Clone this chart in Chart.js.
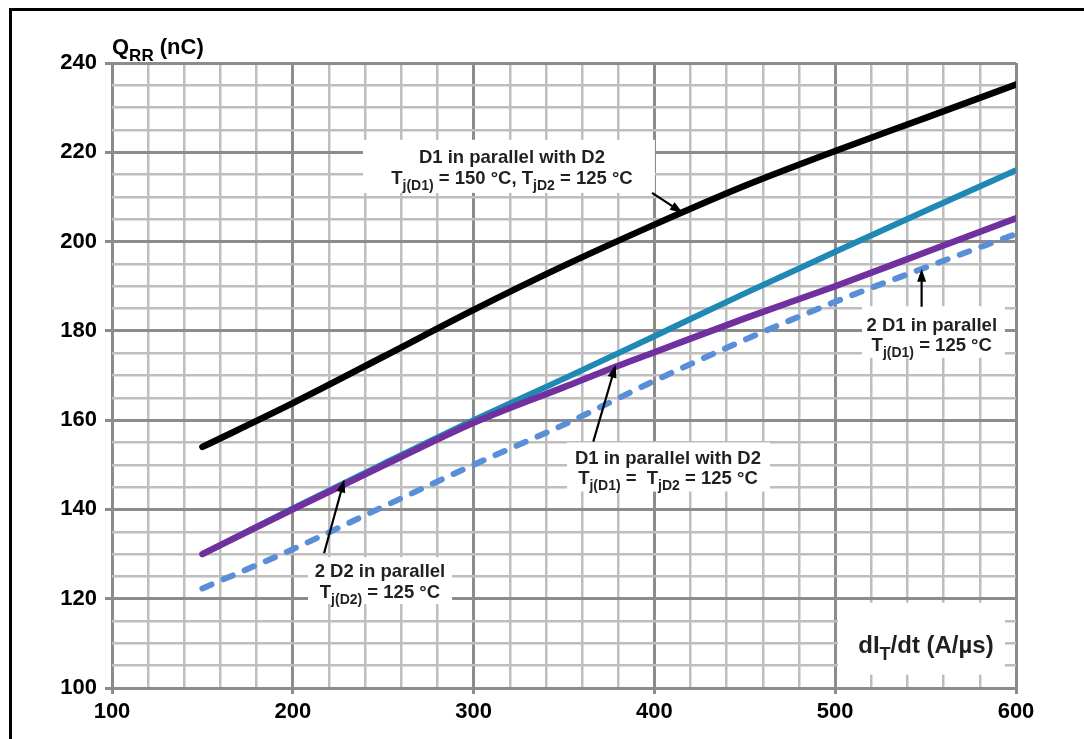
<!DOCTYPE html>
<html>
<head>
<meta charset="utf-8">
<script src="https://cdn.jsdelivr.net/npm/chart.js@4.4.1/dist/chart.umd.min.js"></script>
<style>
  html, body { margin: 0; padding: 0; background: #fff; }
  canvas { display: block; }
</style>
</head>
<body>
<canvas id="qrrChart" width="1084" height="739"></canvas>
<script>
/* Q_RR vs dI/dt for the parallel diode configurations */

const DIDT = [150, 200, 250, 300, 350, 400, 450, 500, 550, 600];
const DIDT_PURPLE = [150, 200, 250, 300, 350, 380, 400, 450, 500, 550, 600];

const QRR_D1_150_D2_125 = [154, 163.8, 174.2, 184.7, 194.6, 203.8, 212.5, 220.3, 227.7, 235.2];
const QRR_2D2_125 = [130, 140.2, 150.2, 160, 169.3, 178.8, 188.4, 197.7, 206.9, 216];
const QRR_D1_D2_125 = [130, 140, 149.8, 159.4, 167.4, 172.2, 175.2, 182.8, 190, 197.6, 205.2];
const QRR_2D1_125 = [122.3, 131.1, 140.6, 150, 159, 168.8, 178, 186.5, 194.2, 201.7];

const FONT = '"Liberation Sans", Arial, sans-serif';
const TEXT_COLOR = '#231f20';

const pts = (xs, ys) => xs.map((x, i) => ({ x, y: ys[i] }));

// callout boxes, positioned in data units: box = [x1, y1, x2, y2]
const NOTES = [
  {
    box: [238.8, 222.8, 400.3, 210.9], cx: 321.2, rows: [219.0, 214.3],
    lines: [[{ t: 'D1 in parallel with D2' }],
            [{ t: 'T' }, { t: 'j(D1)', sub: true }, { t: ' = 150 °C, T' }, { t: 'jD2', sub: true }, { t: ' = 125 °C' }]],
    arrow: [[398.7, 210.9], [415.8, 206.4]]
  },
  {
    box: [208.4, 129.3, 288.1, 118.8], cx: 248.2, rows: [126.3, 121.6],
    lines: [[{ t: '2 D2 in parallel' }],
            [{ t: 'T' }, { t: 'j(D2)', sub: true }, { t: ' = 125 °C' }]],
    arrow: [[217.3, 130.2], [228.5, 146.7]]
  },
  {
    box: [351.7, 155.0, 463.9, 144.0], cx: 407.5, rows: [151.6, 147.1],
    lines: [[{ t: 'D1 in parallel with D2' }],
            [{ t: 'T' }, { t: 'j(D1)', sub: true }, { t: ' =  T' }, { t: 'jD2', sub: true }, { t: ' = 125 °C' }]],
    arrow: [[366.2, 155.2], [378.6, 172.4]]
  },
  {
    box: [514.8, 185.5, 593.9, 174.0], cx: 553.4, rows: [181.5, 176.9],
    lines: [[{ t: '2 D1 in parallel' }],
            [{ t: 'T' }, { t: 'j(D1)', sub: true }, { t: ' = 125 °C' }]],
    arrow: [[547.8, 185.4], [547.8, 193.9]]
  }
];

function drawRich(ctx, parts, x, baseY, size, align) {
  const main = `bold ${size}px ${FONT}`;
  const sub = `bold ${Math.round(size * 0.76)}px ${FONT}`;
  let w = 0;
  parts.forEach(p => { ctx.font = p.sub ? sub : main; w += ctx.measureText(p.t).width; });
  let cur = align === 'left' ? x : x - w / 2;
  ctx.textAlign = 'left';
  ctx.textBaseline = 'alphabetic';
  parts.forEach(p => {
    ctx.font = p.sub ? sub : main;
    ctx.fillText(p.t, cur, baseY + (p.sub ? size * 0.3 : 0));
    cur += ctx.measureText(p.t).width;
  });
}

function drawArrow(ctx, x0, y0, x1, y1) {
  const ang = Math.atan2(y1 - y0, x1 - x0);
  const len = 13, half = 4.5;
  ctx.beginPath();
  ctx.moveTo(x0, y0);
  ctx.lineTo(x1 - Math.cos(ang) * len * 0.8, y1 - Math.sin(ang) * len * 0.8);
  ctx.stroke();
  ctx.beginPath();
  ctx.moveTo(x1, y1);
  ctx.lineTo(x1 - Math.cos(ang) * len - Math.sin(ang) * half, y1 - Math.sin(ang) * len + Math.cos(ang) * half);
  ctx.lineTo(x1 - Math.cos(ang) * len + Math.sin(ang) * half, y1 - Math.sin(ang) * len - Math.cos(ang) * half);
  ctx.closePath();
  ctx.fill();
}

const calloutPlugin = {
  id: 'callouts',
  beforeDraw(chart) {
    const ctx = chart.ctx;
    ctx.save();
    ctx.fillStyle = '#fff';
    ctx.fillRect(0, 0, chart.width, chart.height);
    ctx.restore();
  },
  afterDraw(chart) {
    const ctx = chart.ctx;
    const sx = chart.scales.x, sy = chart.scales.y;
    const area = chart.chartArea;
    ctx.save();

    // figure frame
    ctx.strokeStyle = '#000';
    ctx.lineWidth = 3;
    ctx.beginPath();
    ctx.moveTo(10.5, chart.height);
    ctx.lineTo(10.5, 9.5);
    ctx.lineTo(chart.width, 9.5);
    ctx.stroke();

    // axis titles
    ctx.fillStyle = '#000';
    drawRich(ctx, [{ t: 'Q' }, { t: 'RR', sub: true }, { t: ' (nC)' }], area.left, area.top - 9, 22, 'left');

    const tx = [sx.getPixelForValue(501.5), sy.getPixelForValue(119.1), sx.getPixelForValue(593.9), sy.getPixelForValue(103.0)];
    ctx.fillStyle = '#fff';
    ctx.fillRect(tx[0], tx[1], tx[2] - tx[0], tx[3] - tx[1]);
    ctx.fillStyle = TEXT_COLOR;
    drawRich(ctx, [{ t: 'dI' }, { t: 'T', sub: true }, { t: '/dt (A/µs)' }], sx.getPixelForValue(550.2), sy.getPixelForValue(109.7) + 8, 24);

    NOTES.forEach(n => {
      const x1 = sx.getPixelForValue(n.box[0]), y1 = sy.getPixelForValue(n.box[1]);
      const x2 = sx.getPixelForValue(n.box[2]), y2 = sy.getPixelForValue(n.box[3]);
      ctx.fillStyle = '#fff';
      ctx.fillRect(x1, y1, x2 - x1, y2 - y1);
      ctx.fillStyle = TEXT_COLOR;
      n.lines.forEach((parts, i) => {
        drawRich(ctx, parts, sx.getPixelForValue(n.cx), sy.getPixelForValue(n.rows[i]) + 6.5, 18.5);
      });
      ctx.strokeStyle = '#000';
      ctx.fillStyle = '#000';
      ctx.lineWidth = 2.2;
      drawArrow(ctx,
        sx.getPixelForValue(n.arrow[0][0]), sy.getPixelForValue(n.arrow[0][1]),
        sx.getPixelForValue(n.arrow[1][0]), sy.getPixelForValue(n.arrow[1][1]));
    });
    ctx.restore();
  }
};

const isMajor = (v, step) => Math.abs(v % step) < 1e-9;

// first dataset ends up on top
const chart = new Chart(document.getElementById('qrrChart'), {
  type: 'line',
  data: {
    datasets: [
      { data: pts(DIDT, QRR_D1_150_D2_125), borderColor: '#000', borderWidth: 6.5, borderCapStyle: 'round' },
      { data: pts(DIDT_PURPLE, QRR_D1_D2_125), borderColor: '#7030a0', borderWidth: 6.5, borderCapStyle: 'round' },
      { data: pts(DIDT, QRR_2D2_125), borderColor: '#1f88b5', borderWidth: 6 },
      { data: pts(DIDT, QRR_2D1_125), borderColor: '#5a8fd8', borderWidth: 6, borderDash: [10, 13], borderCapStyle: 'round' }
    ]
  },
  options: {
    responsive: false,
    animation: false,
    devicePixelRatio: 1,
    layout: { padding: { top: 63, right: 68, left: 0, bottom: 0 } },
    elements: { point: { radius: 0 }, line: { cubicInterpolationMode: 'monotone' } },
    plugins: { legend: { display: false }, tooltip: { enabled: false } },
    scales: {
      x: {
        type: 'linear', min: 100, max: 600,
        afterFit: s => { s.height = 51; },
        border: { display: false },
        grid: {
          color: c => isMajor(c.tick.value, 100) ? '#8c8c8c' : '#bebebe',
          lineWidth: c => isMajor(c.tick.value, 100) ? 3 : 2.5,
          tickColor: c => isMajor(c.tick.value, 100) ? '#8c8c8c' : 'rgba(0,0,0,0)',
          tickLength: 6
        },
        ticks: {
          stepSize: 20, maxTicksLimit: 100, autoSkip: false, maxRotation: 0, padding: 5,
          color: '#000', font: { family: FONT, size: 22, weight: 'bold' },
          callback: v => isMajor(v, 100) ? v : ''
        }
      },
      y: {
        type: 'linear', min: 100, max: 240,
        afterFit: s => { s.width = 112; },
        border: { display: false },
        grid: {
          color: c => isMajor(c.tick.value, 20) ? '#8c8c8c' : '#bebebe',
          lineWidth: c => isMajor(c.tick.value, 20) ? 3 : 2.5,
          tickColor: c => isMajor(c.tick.value, 20) ? '#8c8c8c' : 'rgba(0,0,0,0)',
          tickLength: 7
        },
        ticks: {
          stepSize: 5, maxTicksLimit: 100, autoSkip: false, padding: 8,
          color: '#000', font: { family: FONT, size: 22, weight: 'bold' },
          callback: v => isMajor(v, 20) ? v : ''
        }
      }
    }
  },
  plugins: [calloutPlugin]
});
</script>
</body>
</html>
